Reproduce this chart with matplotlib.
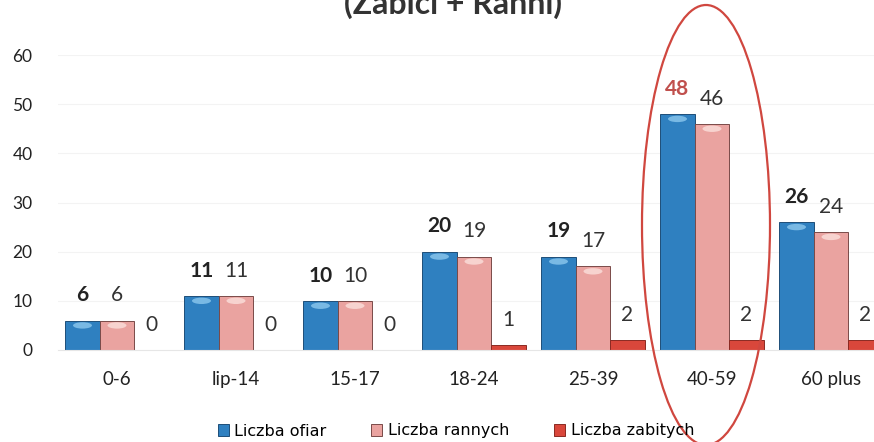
import numpy as np
import matplotlib.pyplot as plt
from matplotlib.patches import Ellipse

# Data
categories = ['0-6', 'lip-14', '15-17', '18-24', '25-39', '40-59', '60 plus']
ofiar = [6, 11, 10, 20, 19, 48, 26]
rannych = [6, 11, 10, 19, 17, 46, 24]
zabitych = [0, 0, 0, 1, 2, 2, 2]
series_names = ['Liczba ofiar', 'Liczba rannych', 'Liczba zabitych']
yticks = [0, 10, 20, 30, 40, 50, 60]

plt.rcParams['font.family'] = ['Lato', 'DejaVu Sans']

W, H = 874, 442
fig = plt.figure(figsize=(W / 100, H / 100), dpi=100)

# axes placed in pixel terms: x=-0.5 at 57.5px, one category = 119px; y 0..60 -> 350..55px
left = 57.5 / W
bottom = (H - 350) / H
height = (350 - 55) / H
ax = fig.add_axes([left, bottom, 1 - left, height])
xmax = -0.5 + (W - 57.5) / 119
ax.set_xlim(-0.5, xmax)
ax.set_ylim(0, 60)

x = np.arange(len(categories))
bw = 0.29
colors = ['#2f80c0', '#eaa3a0', '#d9473b']
edges = ['#1e4e78', '#7a4a48', '#8a2a22']
caps = ['#8cc8ee', '#fbe0dc', '#f08a80']

for i, (vals, c, ec, cap) in enumerate(zip([ofiar, rannych, zabitych], colors, edges, caps)):
    pos = x + (i - 1) * bw
    ax.bar(pos, vals, bw, color=c, edgecolor=ec, linewidth=0.7,
           label=series_names[i], zorder=2)
    for p, v, cat in zip(pos, vals, categories):
        # light cylinder-top highlight
        if v >= 4:
            ax.add_patch(Ellipse((p, v - 1.0), bw * 0.55, 1.3, color=cap,
                                 alpha=0.8, zorder=2.5, linewidth=0))
        if i == 0:
            col = '#c0504d' if cat == '40-59' else '#222222'
            weight = 'bold'
        else:
            col = '#333333'
            weight = 'normal'
        ax.annotate(str(v), (p, v), xytext=(0, 11), textcoords='offset points',
                    ha='center', va='bottom', fontsize=15, color=col,
                    fontweight=weight, zorder=3)

ax.set_xticks(x)
ax.set_xticklabels(categories, fontsize=13.5, color='#222222')
ax.set_yticks(yticks)
ax.tick_params(axis='y', labelsize=12.5, colors='#222222', length=0, pad=18)
ax.tick_params(axis='x', length=0, pad=15)
for ytk in yticks[1:]:
    ax.axhline(ytk, color='#f3f3f3', linewidth=0.8, zorder=0)
for s in ['top', 'right', 'left']:
    ax.spines[s].set_visible(False)
ax.spines['bottom'].set_color('#e6e6e6')

# title, mostly cut off at the top edge
fig.text(453 / W, 1 - 14 / H, '(Zabici + Ranni)', ha='center', va='baseline',
         fontsize=23, fontweight='bold', color='#333333')

# legend
handles, labels = ax.get_legend_handles_labels()
fig.legend(handles, labels, loc='center', bbox_to_anchor=(456 / W, 1 - 431 / H),
           ncol=3, frameon=False, handlelength=0.7, handleheight=0.7,
           handletextpad=0.35, columnspacing=2.8,
           prop={'family': 'DejaVu Sans', 'size': 11.5})

# red hand-drawn ellipse around 40-59
ell = Ellipse((706 / W, 1 - 225 / H), 128 / W, 440 / H, transform=fig.transFigure,
              fill=False, edgecolor='#d0473f', linewidth=1.6, zorder=5)
fig.patches.append(ell)

fig.savefig('out.png', dpi=100)
